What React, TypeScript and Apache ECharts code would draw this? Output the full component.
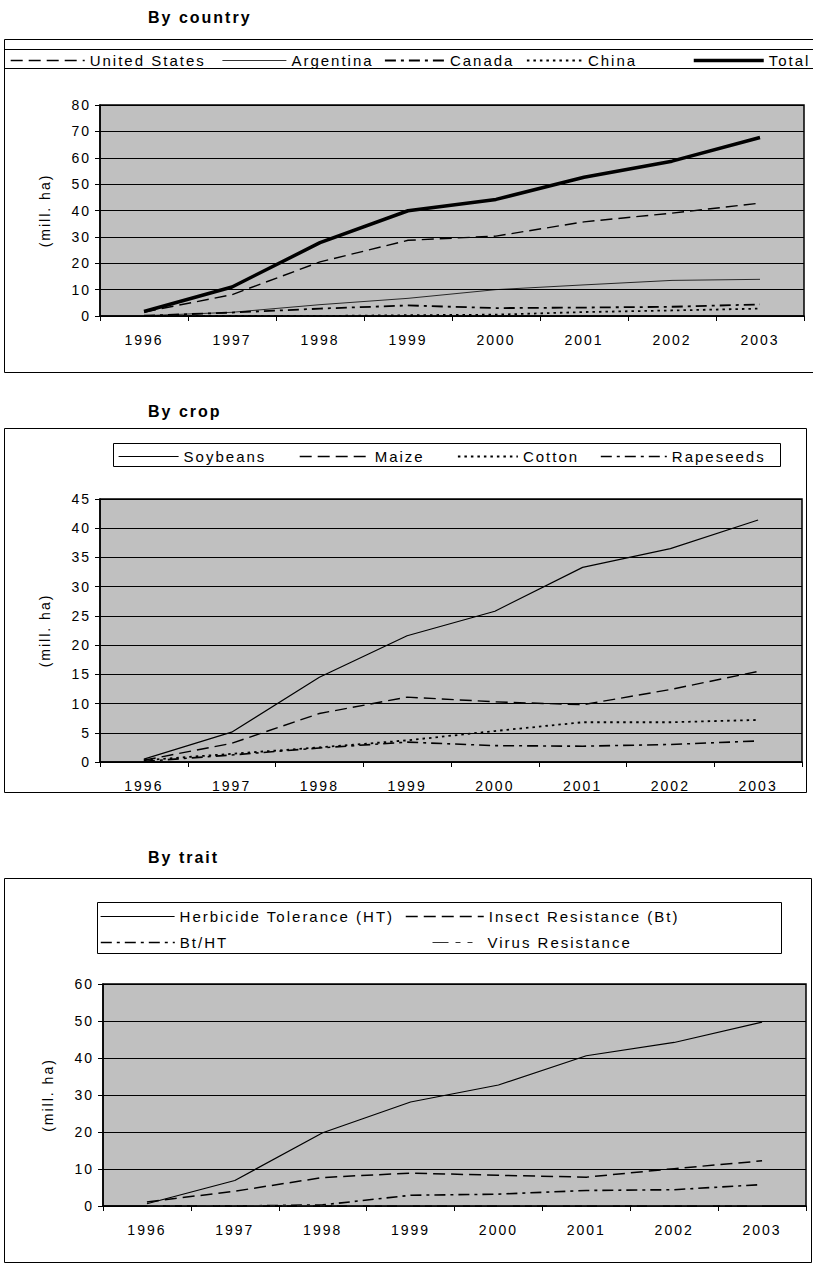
import React, { useEffect, useRef } from "react";
import * as echarts from "echarts";

const years = ["1996", "1997", "1998", "1999", "2000", "2001", "2002", "2003"];

// By country (mill. ha)
const unitedStates = [1.5, 8.1, 20.5, 28.7, 30.3, 35.7, 39.0, 42.8];
const argentina = [0.1, 1.4, 4.3, 6.7, 10.0, 11.8, 13.5, 13.9];
const canada = [0.1, 1.3, 2.8, 4.0, 3.0, 3.2, 3.5, 4.4];
const china = [0, 0, 0, 0.3, 0.5, 1.5, 2.1, 2.8];
const total = [1.7, 11.0, 27.8, 39.9, 44.2, 52.6, 58.7, 67.7];

// By crop (mill. ha)
const soybeans = [0.5, 5.1, 14.5, 21.6, 25.8, 33.3, 36.5, 41.4];
const maize = [0.3, 3.2, 8.3, 11.1, 10.3, 9.8, 12.4, 15.5];
const cotton = [0.3, 1.4, 2.5, 3.7, 5.3, 6.8, 6.8, 7.2];
const rapeseeds = [0.1, 1.2, 2.4, 3.4, 2.8, 2.7, 3.0, 3.6];

// By trait (mill. ha)
const herbicideTolerance = [0.6, 6.9, 19.8, 28.1, 32.7, 40.6, 44.2, 49.7];
const insectResistance = [1.1, 4.0, 7.7, 8.9, 8.3, 7.8, 10.1, 12.2];
const btHt = [0, 0, 0.3, 2.9, 3.2, 4.2, 4.4, 5.8];
const virusResistance = [0, 0, 0, 0, 0, 0, 0, 0];

const titles = ["By country", "By crop", "By trait"];
const yName = "(mill. ha)";
const yMax = [80, 45, 60];
const yStep = [10, 5, 10];

const FONT = "'Liberation Sans', Arial, sans-serif";

const DASH = [12, 6];
const DOT = [2.5, 4];
const DASHDOT = [11, 5, 3, 5];
const VIRUS = [16, 7, 5, 7, 5, 10];

function line(name: string, data: number[], idx: number, width: number, type: any, color = "#000") {
  return {
    type: "line",
    name,
    data,
    xAxisIndex: idx,
    yAxisIndex: idx,
    symbol: "none",
    showSymbol: false,
    silent: true,
    itemStyle: { color },
    lineStyle: { color, width, type },
  };
}

function leg(name: string, left: number, top: number, iw: number) {
  return {
    data: [name],
    left,
    top,
    itemWidth: iw,
    itemHeight: 12,
    itemGap: 0,
    padding: 0,
    selectedMode: false,
    textStyle: { fontFamily: FONT, fontSize: 15, color: "#000" },
    itemStyle: { opacity: 0 },
    lineStyle: { width: "inherit", type: "inherit", color: "inherit" },
  };
}

const grids = [
  { left: 100, top: 105, width: 704, height: 211 },
  { left: 100, top: 499, width: 702, height: 263 },
  { left: 103, top: 984, width: 703, height: 222 },
];

export default function App() {
  const ref = useRef<HTMLDivElement>(null);
  useEffect(() => {
    if (!ref.current) return;
    const chart = echarts.init(ref.current, null, { renderer: "svg" });
    const box = (x: number, y: number, w: number, h: number) => ({
      type: "rect",
      shape: { x: x + 0.5, y: y + 0.5, width: w, height: h },
      style: { fill: "none", stroke: "#000", lineWidth: 1 },
    });
    const option: any = {
      animation: false,
      backgroundColor: "#fff",
      title: [
        { text: titles[0], left: 148, top: 9 },
        { text: titles[1], left: 148, top: 403 },
        { text: titles[2], left: 148, top: 849 },
      ].map((t) => ({
        ...t,
        padding: 0,
        textStyle: { fontFamily: FONT, fontSize: 16, fontWeight: "bold", color: "#000" },
      })),
      graphic: [
        box(4, 39, 812, 333),
        box(4, 49, 812, 19),
        box(4, 428, 802, 364),
        box(113, 443, 667, 23),
        box(4, 878, 807, 384),
        box(97, 902, 684, 51),
      ],
      legend: [
        leg("United States", 10, 53, 74),
        leg("Argentina", 222, 53, 64),
        leg("Canada", 384, 53, 60),
        leg("China", 526, 53, 56),
        leg("Total", 692, 53, 70),
        leg("Soybeans", 118, 449, 60),
        leg("Maize", 299, 449, 70),
        leg("Cotton", 457, 449, 60),
        leg("Rapeseeds", 600, 449, 66),
        leg("Herbicide Tolerance (HT)", 100, 909, 74),
        leg("Insect Resistance (Bt)", 405, 909, 78),
        leg("Bt/HT", 100, 935, 74),
        leg("Virus Resistance", 432, 935, 50),
      ],
      grid: grids.map((g) => ({
        ...g,
        show: true,
        backgroundColor: "#c0c0c0",
        borderColor: "#000",
        borderWidth: 1.5,
        containLabel: false,
      })),
      xAxis: [0, 1, 2].map((i) => ({
        type: "category",
        gridIndex: i,
        data: years,
        boundaryGap: true,
        axisLine: { show: true, lineStyle: { color: "#000", width: 1.5 } },
        axisTick: { show: true, length: 5, lineStyle: { color: "#000", width: 1 } },
        axisLabel: { color: "#000", fontFamily: FONT, fontSize: 14, margin: 17 },
        splitLine: { show: false },
      })),
      yAxis: [0, 1, 2].map((i) => ({
        type: "value",
        gridIndex: i,
        min: 0,
        max: yMax[i],
        interval: yStep[i],
        name: yName,
        nameLocation: "middle",
        nameRotate: 90,
        nameGap: 48,
        nameTextStyle: { color: "#000", fontFamily: FONT, fontSize: 14 },
        axisLine: { show: true, lineStyle: { color: "#000", width: 1.5 } },
        axisTick: { show: true, length: 5, lineStyle: { color: "#000", width: 1 } },
        axisLabel: { color: "#000", fontFamily: FONT, fontSize: 14, margin: 9 },
        splitLine: { show: true, lineStyle: { color: "#000", width: 1 } },
      })),
      series: [
        line("United States", unitedStates, 0, 1.4, DASH),
        line("Argentina", argentina, 0, 0.8, "solid"),
        line("Canada", canada, 0, 1.8, DASHDOT),
        line("China", china, 0, 1.8, DOT),
        line("Total", total, 0, 3.5, "solid"),
        line("Soybeans", soybeans, 1, 1.2, "solid"),
        line("Maize", maize, 1, 1.4, DASH),
        line("Cotton", cotton, 1, 1.8, DOT),
        line("Rapeseeds", rapeseeds, 1, 1.6, DASHDOT),
        line("Herbicide Tolerance (HT)", herbicideTolerance, 2, 1.2, "solid"),
        line("Insect Resistance (Bt)", insectResistance, 2, 1.5, DASH),
        line("Bt/HT", btHt, 2, 1.6, DASHDOT),
        line("Virus Resistance", virusResistance, 2, 1, VIRUS, "#333"),
      ],
    };
    chart.setOption(option);
    return () => chart.dispose();
  }, []);
  return (
    <div
      ref={ref}
      style={{ position: "absolute", left: 0, top: 0, width: 813, height: 1267, letterSpacing: "2px" }}
    />
  );
}
